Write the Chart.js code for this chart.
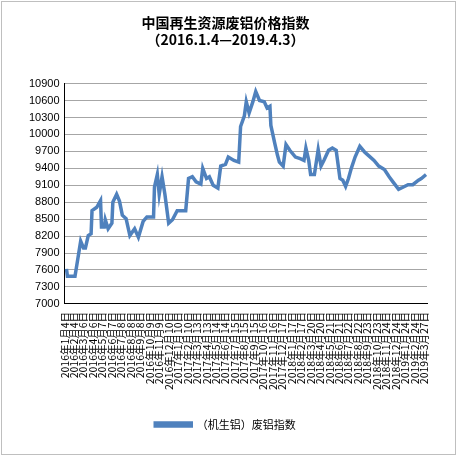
<!DOCTYPE html>
<html>
<head>
<meta charset="utf-8">
<script src="https://cdn.jsdelivr.net/npm/chart.js@4/dist/chart.umd.min.js"></script>
<style>
  body { margin: 0; background: #fff; }
  #wrap { position: absolute; left: 1px; top: 1px; width: 455px; height: 454px; border: 1px solid #bfbfbf; box-sizing: border-box; }
</style>
</head>
<body>
<div id="wrap"><canvas id="c"></canvas></div>
<script>
// 月份偏移（自 2016-01-04 起）与指数
const months = [0.2,0.3,1.1,1.4,1.7,2.0,2.2,2.5,2.8,2.9,3.4,3.8,3.9,4.2,4.3,4.6,5.0,5.1,5.5,5.8,6.1,6.5,6.9,7.4,7.8,8.3,8.7,9.4,9.5,9.8,10.0,10.3,10.6,11.0,11.4,11.9,12.8,13.1,13.5,13.9,14.4,14.6,15.0,15.3,15.7,16.2,16.5,17.0,17.3,17.9,18.4,18.6,19.0,19.2,19.5,19.9,20.2,20.6,21.1,21.4,21.7,21.8,22.2,22.5,22.7,23.1,23.4,23.8,24.4,24.9,25.3,25.5,25.8,26.0,26.4,26.8,27.1,27.4,27.9,28.3,28.7,29.1,29.4,29.7,30.0,30.3,30.7,31.2,31.7,32.1,32.7,33.2,33.8,34.3,34.7,35.3,35.7,36.3,36.8,37.4,37.7,38.2];
const values = [7620,7490,7490,7800,8110,7990,7990,8210,8240,8650,8710,8830,8360,8360,8490,8330,8430,8800,8940,8820,8570,8510,8210,8330,8180,8460,8540,8540,9070,9290,8940,9250,8940,8430,8490,8650,8650,9220,9250,9160,9120,9400,9220,9250,9100,9050,9440,9470,9600,9540,9510,10140,10330,10580,10380,10580,10760,10600,10580,10470,10500,10160,9850,9630,9510,9440,9820,9720,9600,9570,9540,9760,9540,9290,9290,9730,9440,9540,9720,9760,9720,9220,9190,9080,9220,9400,9600,9790,9690,9630,9540,9440,9380,9250,9160,9030,9060,9110,9110,9190,9220,9290];
const tickLabels = [
  '2016年1月4日','2016年2月4日','2016年3月6日','2016年4月6日','2016年5月7日','2016年6月7日','2016年7月8日','2016年8月8日','2016年9月8日','2016年10月9日','2016年11月9日','2016年12月10日',
  '2017年1月10日','2017年2月10日','2017年3月13日','2017年4月13日','2017年5月14日','2017年6月14日','2017年7月15日','2017年8月15日','2017年9月15日','2017年10月16日','2017年11月16日','2017年12月17日',
  '2018年1月17日','2018年2月17日','2018年3月20日','2018年4月20日','2018年5月21日','2018年6月21日','2018年7月22日','2018年8月22日','2018年9月23日','2018年10月23日','2018年11月24日','2018年12月24日',
  '2019年1月24日','2019年2月24日','2019年3月27日'
];
const yTicks = [7000,7300,7600,7900,8200,8500,8800,9100,9400,9700,10000,10300,10600,10900];

const points = months.map((m, i) => ({ x: m, y: values[i] }));

new Chart(document.getElementById('c'), {
  type: 'line',
  data: {
    datasets: [{
      label: '（机生铝）废铝指数',
      data: points,
      borderColor: '#4f81bd',
      backgroundColor: '#4f81bd',
      borderWidth: 3.5,
      pointRadius: 0,
      tension: 0
    }]
  },
  options: {
    responsive: true,
    maintainAspectRatio: false,
    animation: false,
    layout: { padding: { left: 22, right: 28, top: 4, bottom: 14 } },
    plugins: {
      title: {
        display: true,
        text: ['中国再生资源废铝价格指数', '（2016.1.4—2019.4.3）'],
        font: { family: 'Noto Sans CJK SC', size: 14, weight: 'bold' },
        color: '#000',
        padding: { top: 8, bottom: 36 }
      },
      legend: {
        position: 'bottom',
        labels: {
          font: { family: 'Noto Sans CJK SC', size: 11 },
          color: '#000',
          boxWidth: 36,
          boxHeight: 3,
          padding: 26
        }
      },
      tooltip: { enabled: false }
    },
    scales: {
      x: {
        type: 'linear',
        min: 0,
        max: 38.3,
        afterBuildTicks: (s) => { s.ticks = tickLabels.map((t, i) => ({ value: i })); },
        grid: { display: false, drawTicks: true, tickLength: 5, color: '#000' },
        border: { color: '#000' },
        ticks: {
          autoSkip: false,
          maxRotation: 90,
          minRotation: 90,
          font: { family: 'Noto Sans CJK SC', size: 10.5 },
          color: '#000',
          callback: (v) => tickLabels[v] || ''
        }
      },
      y: {
        min: 7000,
        max: 10900,
        afterBuildTicks: (s) => { s.ticks = yTicks.map(v => ({ value: v })); },
        grid: { color: '#a6a6a6', drawTicks: false },
        border: { color: '#000' },
        ticks: {
          font: { family: 'Liberation Sans', size: 11 }, color: '#000', padding: 5,
          callback: (v) => String(v)
        }
      }
    }
  }
});
</script>
</body>
</html>
